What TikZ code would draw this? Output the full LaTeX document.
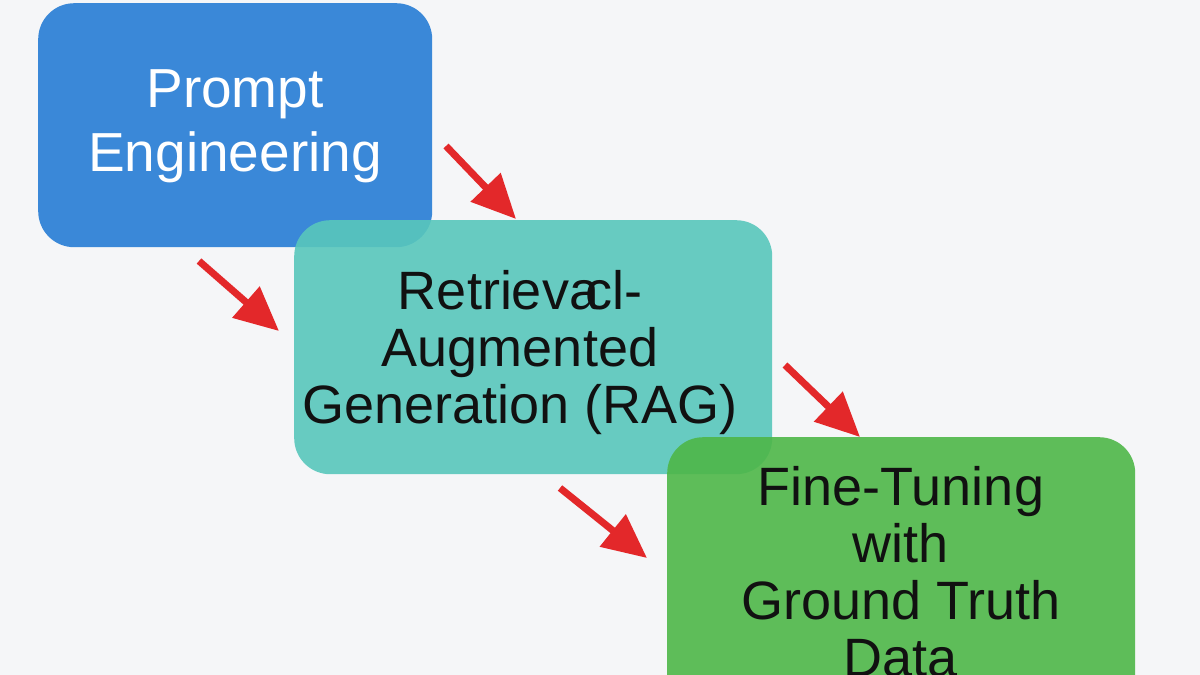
\documentclass[tikz,border=0pt]{standalone}
\usepackage{fontspec}
\setmainfont{Liberation Sans}
\usetikzlibrary{arrows.meta}
\definecolor{bg}{HTML}{F5F6F8}
\definecolor{pblue}{HTML}{3A88D8}
\definecolor{pteal}{HTML}{58C7BC}
\definecolor{pgreen}{HTML}{4EB748}
\definecolor{parrow}{HTML}{E3282A}
\definecolor{ink}{HTML}{111111}
\begin{document}
\begin{tikzpicture}[x=1pt,y=-1pt,
  box/.style={rounded corners=36pt, inner sep=0pt, anchor=north west},
  lbl/.style={align=center, inner sep=0pt},
  arr/.style={-{Triangle[length=44pt,width=40pt]}, line width=7pt, draw=parrow}]
\fill[bg] (0,0) rectangle (1200,675);
\useasboundingbox (0,0) rectangle (1200,675);
\clip (0,0) rectangle (1200,675);
% boxes
\node[box, fill=pblue, minimum width=394pt, minimum height=244pt] (pe) at (38,3) {};
\node[box, fill=pteal, fill opacity=0.9, minimum width=478pt, minimum height=254pt] (rag) at (294,220) {};
\node[box, fill=pgreen, fill opacity=0.9, minimum width=468pt, minimum height=300pt] (ft) at (667,437) {};
% labels
\node[lbl, text=white, font=\fontsize{55}{64}\selectfont] (pet) at (235,126) {Prompt\\Engineering};
\node[lbl, text=ink, font=\fontsize{54}{57}\selectfont] (ragt) at (520,353) {Retrieva\kern-0.26em cl-\\Augmented\\Generation (RAG)};
\node[lbl, text=ink, font=\fontsize{54}{57}\selectfont] (ftt) at (901,572) {Fine-Tuning\\with\\Ground Truth\\Data};
% arrows
\coordinate (a1s) at (446,146); \coordinate (a1e) at (516,219);
\coordinate (a2s) at (199,261); \coordinate (a2e) at (279,331);
\coordinate (a3s) at (785,365); \coordinate (a3e) at (860,437);
\coordinate (a4s) at (560,488); \coordinate (a4e) at (647,558);
\draw[arr] (a1s) -- (a1e);
\draw[arr] (a2s) -- (a2e);
\draw[arr] (a3s) -- (a3e);
\draw[arr] (a4s) -- (a4e);
\end{tikzpicture}
\end{document}
